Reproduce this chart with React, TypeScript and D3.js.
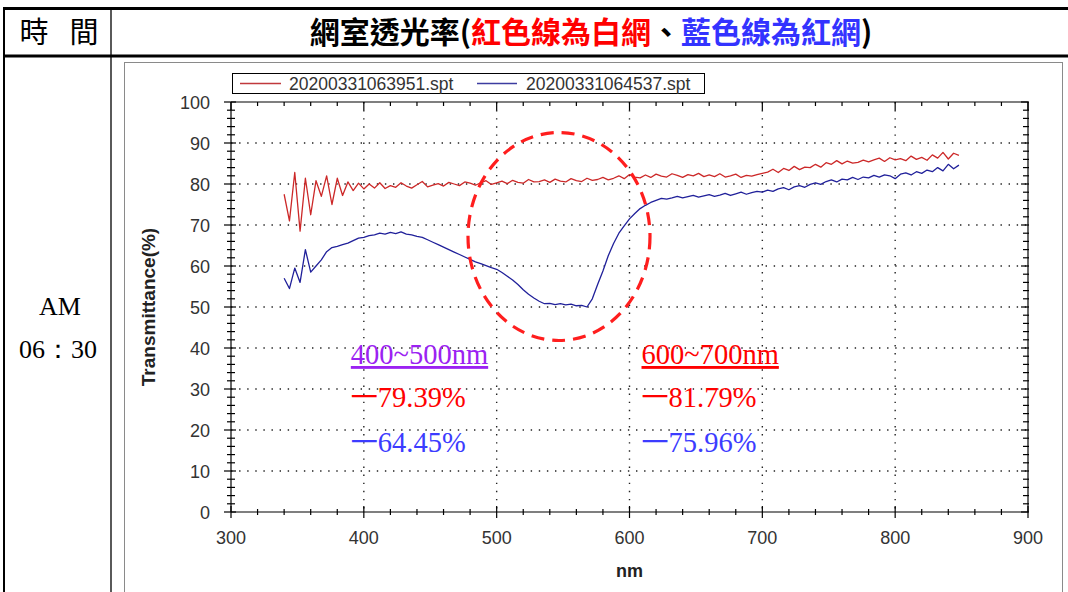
import React from "react";
import * as d3 from "d3";

// Wavelength samples (nm) shared by both spectra
const wavelengths: number[] = d3.range(340, 852, 4);

// Transmittance (%) of the white net, one value per wavelength sample
const whiteNet: number[] = [
  77.5, 71.0, 82.8, 68.5, 81.4, 72.5, 80.8, 77.0, 82.0, 75.0,
  81.4, 77.2, 80.5, 78.4, 80.2, 78.8, 80.0, 79.0, 80.3, 78.9,
  79.6, 79.2, 80.3, 79.5, 79.0, 79.8, 80.6, 79.3, 79.7, 80.1,
  79.5, 80.4, 80.0, 79.6, 80.5, 80.2, 79.7, 80.3, 80.8, 79.9,
  80.3, 80.7, 80.1, 80.9, 80.4, 80.2, 81.1, 80.5, 80.6, 81.0,
  80.4, 81.2, 80.7, 80.5, 81.3, 80.8, 80.6, 81.4, 80.9, 81.1,
  81.6, 81.0, 81.4, 82.0, 81.3, 82.3, 81.7, 81.5, 82.2, 81.6,
  82.4, 81.9, 81.7, 82.5, 82.1, 81.6, 82.3, 82.0, 82.6, 81.8,
  82.2, 81.8, 82.5, 81.7, 82.0, 82.4, 81.6, 82.1, 81.9, 82.3,
  82.6, 82.9, 83.6, 82.8, 83.8, 83.3, 84.3, 83.5, 84.1, 84.0,
  84.8, 84.1, 85.2, 84.8, 85.7, 84.9, 85.6, 85.1, 85.3, 85.8,
  85.4, 85.9, 86.3, 85.5, 86.4, 85.9, 86.2, 85.7, 86.8, 86.0,
  86.5, 85.8, 87.1, 86.3, 87.7, 86.1, 87.5, 87.0,
];

// Transmittance (%) of the red net
const redNet: number[] = [
  57.0, 54.5, 59.5, 56.0, 64.0, 58.5, 60.0, 61.5, 63.5, 64.5,
  64.8, 65.2, 65.6, 66.2, 66.8, 67.0, 67.4, 67.6, 68.0, 67.8,
  68.2, 67.9, 68.3, 67.8, 67.6, 67.2, 67.0, 66.4, 65.8, 65.2,
  64.6, 64.0, 63.4, 62.8, 62.2, 61.6, 61.0, 60.6, 60.1, 59.6,
  59.2, 58.4, 57.5, 56.6, 55.5, 54.2, 53.1, 52.2, 51.4, 50.8,
  50.9, 50.6, 50.8, 50.5, 50.7, 50.3, 50.4, 50.0, 52.0, 55.5,
  58.8, 62.5, 65.5, 68.0, 69.8, 71.5, 72.8, 74.0, 74.8, 75.5,
  76.0, 76.5, 76.3, 76.6, 77.0, 76.6, 76.9, 77.2, 76.8, 77.1,
  77.4, 77.0, 77.3, 77.7, 77.2, 77.6, 78.0, 77.5, 77.9, 78.2,
  78.0, 78.5, 78.2, 78.8, 79.1, 78.6, 79.3, 79.6, 79.2, 79.9,
  80.3, 79.9, 80.6, 81.0, 80.5, 81.2, 81.0, 81.6, 81.1, 81.7,
  81.5, 82.1, 81.7, 82.2, 82.0, 81.3, 82.4, 82.7, 82.2, 83.0,
  82.6, 83.4, 83.0, 84.0, 83.2, 84.8, 83.7, 84.6,
];

const xTicks: number[] = [300, 400, 500, 600, 700, 800, 900];
const yTicks: number[] = [0, 10, 20, 30, 40, 50, 60, 70, 80, 90, 100];
const legendLabels: string[] = ["20200331063951.spt", "20200331064537.spt"];
const bandLabels: string[] = ["400~500nm", "600~700nm"];
const bandStarts: number[] = [400, 600];
const whiteNetMeans: number[] = [79.39, 81.79];
const redNetMeans: number[] = [64.45, 75.96];

const W = 1068;
const H = 592;
const CJK = "'Noto Sans CJK TC', 'Noto Sans CJK SC', sans-serif";
const SERIF = "'Liberation Serif', 'DejaVu Serif', serif";
const SANS = "'Liberation Sans', Arial, sans-serif";

const plot = { left: 231, right: 1028, top: 102, bottom: 512 };

export default function App() {
  const x = d3.scaleLinear().domain([300, 900]).range([plot.left, plot.right]);
  const y = d3.scaleLinear().domain([0, 100]).range([plot.bottom, plot.top]);

  const line = d3
    .line<[number, number]>()
    .x((d) => x(d[0]))
    .y((d) => y(d[1]));

  const whitePts = wavelengths
    .slice(0, whiteNet.length)
    .map((w, i) => [w, whiteNet[i]] as [number, number]);
  const redPts = wavelengths
    .slice(0, redNet.length)
    .map((w, i) => [w, redNet[i]] as [number, number]);

  const xMinor = d3.range(300, 901, 20);
  const yMinor = d3.range(0, 101, 2);
  const gridX = xTicks.filter((t) => t > 300 && t < 900);
  const gridY = yTicks.filter((t) => t > 0 && t < 100);

  const bandX = bandStarts.map((b, i) => x(b) + (i === 0 ? -13 : 12));
  const bandColors = ["#9b22f2", "#ff0000"];
  const blueText = "#3c3cff";

  return (
    <svg
      width={W}
      height={H}
      viewBox={`0 0 ${W} ${H}`}
      style={{ position: "absolute", left: 0, top: 0, background: "#fff" }}
    >
      <rect x={0} y={0} width={W} height={H} fill="#fff" />

      {/* table borders */}
      <line x1={3} x2={W} y1={8.5} y2={8.5} stroke="#000" strokeWidth={3} />
      <line x1={3} x2={W} y1={56} y2={56} stroke="#000" strokeWidth={3} />
      <line x1={4} x2={4} y1={7} y2={H} stroke="#000" strokeWidth={2} />
      <line x1={111} x2={111} y1={7} y2={H} stroke="#000" strokeWidth={1.3} />

      {/* header row */}
      <g fontFamily={CJK} fontSize={29} fill="#000">
        <text x={34} y={43} textAnchor="middle">時</text>
        <text x={84} y={43} textAnchor="middle">間</text>
      </g>
      <text x={591} y={43} textAnchor="middle" fontFamily={CJK} fontSize={30} fontWeight={700}>
        <tspan fill="#000">網室透光率(</tspan>
        <tspan fill="#ff0000">紅色線為白網</tspan>
        <tspan fill="#000">、</tspan>
        <tspan fill="#3333ff">藍色線為紅網</tspan>
        <tspan fill="#000">)</tspan>
      </text>

      {/* time cell */}
      <g fontFamily={SERIF} fontSize={26} fill="#000" textAnchor="middle">
        <text x={60} y={315}>AM</text>
        <text x={58} y={358}>06：30</text>
      </g>

      {/* chart frame */}
      <rect x={124.5} y={62.5} width={938} height={540} fill="#fff" stroke="#8a8a8a" strokeWidth={1} />

      {/* legend */}
      <rect x={232.5} y={73.5} width={472} height={20} fill="#fff" stroke="#000" strokeWidth={1} />
      <line x1={240} x2={281} y1={83.5} y2={83.5} stroke="#c0393c" strokeWidth={1.6} />
      <line x1={477} x2={517} y1={83.5} y2={83.5} stroke="#3c3ca0" strokeWidth={1.6} />
      <g fontFamily={SANS} fontSize={17.5} fill="#333">
        <text x={289} y={90}>{legendLabels[0]}</text>
        <text x={526} y={90}>{legendLabels[1]}</text>
      </g>

      {/* dotted grid */}
      <g stroke="#222" strokeWidth={1.4} strokeDasharray="1.4 6.7">
        {gridX.map((t) => (
          <line key={"gx" + t} x1={x(t)} x2={x(t)} y1={plot.top} y2={plot.bottom} />
        ))}
        {gridY.map((t) => (
          <line key={"gy" + t} x1={plot.left} x2={plot.right} y1={y(t)} y2={y(t)} />
        ))}
      </g>

      {/* axes */}
      <g stroke="#000" strokeWidth={1.2}>
        <line x1={plot.left} x2={plot.right} y1={plot.bottom} y2={plot.bottom} />
        <line x1={plot.left} x2={plot.right} y1={plot.top} y2={plot.top} />
        <line x1={plot.left} x2={plot.left} y1={plot.top} y2={plot.bottom} />
        <line x1={plot.right} x2={plot.right} y1={plot.top} y2={plot.bottom} />
        {xMinor.map((t) => {
          const major = t % 100 === 0;
          return (
            <g key={"xt" + t}>
              <line x1={x(t)} x2={x(t)} y1={plot.bottom - (major ? 6 : 3)} y2={plot.bottom + (major ? 6 : 3)} />
              <line x1={x(t)} x2={x(t)} y1={plot.top} y2={plot.top + (major ? 8 : 4)} />
            </g>
          );
        })}
        {yMinor.map((t) => {
          const major = t % 10 === 0;
          return (
            <g key={"yt" + t}>
              <line x1={plot.left - (major ? 7 : 4)} x2={plot.left + (major ? 5 : 4)} y1={y(t)} y2={y(t)} />
              <line x1={plot.right - (major ? 7 : 5)} x2={plot.right + 1} y1={y(t)} y2={y(t)} />
            </g>
          );
        })}
      </g>

      {/* tick labels */}
      <g fontFamily={SANS} fontSize={18} fill="#333">
        {xTicks.map((t) => (
          <text key={"xl" + t} x={x(t)} y={544} textAnchor="middle">{t}</text>
        ))}
        {yTicks.map((t) => (
          <text key={"yl" + t} x={210} y={y(t) + 6.5} textAnchor="end">{t}</text>
        ))}
      </g>
      <text x={x(600)} y={577} textAnchor="middle" fontFamily={SANS} fontSize={18} fontWeight={700} fill="#222">nm</text>
      <text
        transform={`translate(155, ${y(50)}) rotate(-90)`}
        textAnchor="middle"
        fontFamily={SANS}
        fontSize={19}
        fontWeight={700}
        fill="#222"
      >
        Transmittance(%)
      </text>

      {/* spectra */}
      <path d={line(whitePts) || ""} fill="none" stroke="#cc2828" strokeWidth={1.3} strokeLinejoin="round" />
      <path d={line(redPts) || ""} fill="none" stroke="#20209a" strokeWidth={1.3} strokeLinejoin="round" />

      {/* highlighted dip */}
      <ellipse
        cx={559}
        cy={236.5}
        rx={91}
        ry={104}
        fill="none"
        stroke="#ff1e1e"
        strokeWidth={3.2}
        strokeDasharray="13 8"
      />

      {/* band averages */}
      {bandLabels.map((lab, i) => (
        <g key={lab} fontFamily={SERIF} fontSize={28.5}>
          <text x={bandX[i]} y={364} fill={bandColors[i]} textDecoration="underline">
            {lab}
          </text>
          <text x={bandX[i]} y={407} fill="#ff0000">
            <tspan fontFamily={CJK} fontSize={27}>一</tspan>
            <tspan>{whiteNetMeans[i].toFixed(2) + "%"}</tspan>
          </text>
          <text x={bandX[i]} y={452} fill={blueText}>
            <tspan fontFamily={CJK} fontSize={27}>一</tspan>
            <tspan>{redNetMeans[i].toFixed(2) + "%"}</tspan>
          </text>
        </g>
      ))}
    </svg>
  );
}
